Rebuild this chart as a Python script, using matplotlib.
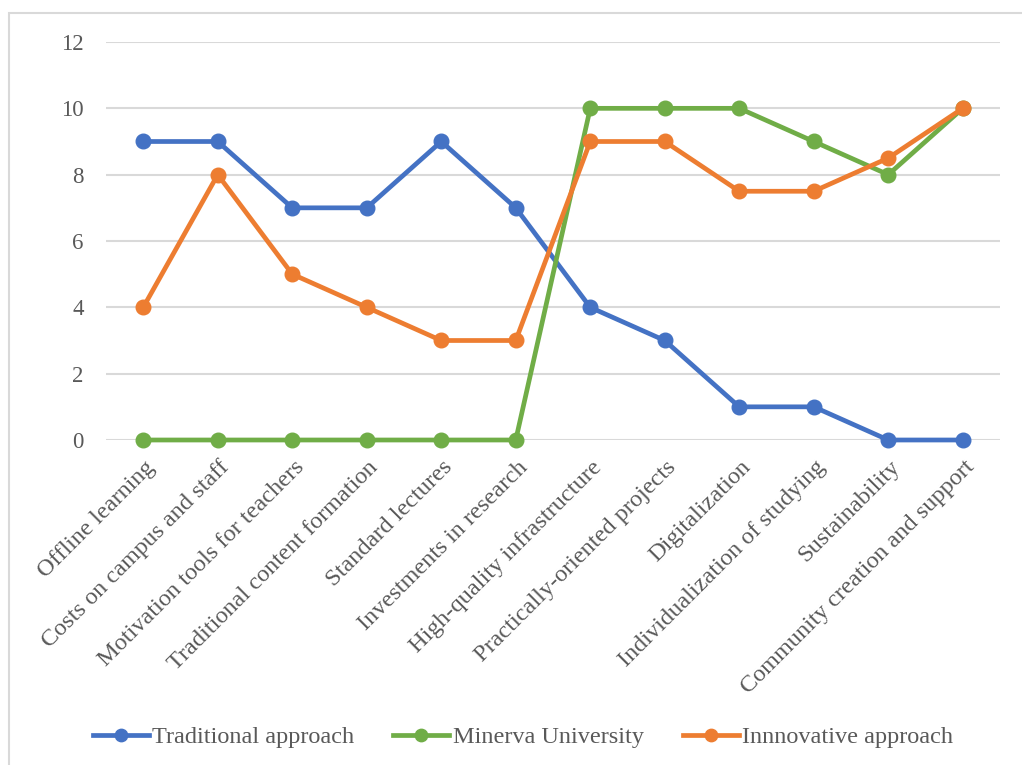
import matplotlib.pyplot as plt
from matplotlib.patches import Rectangle
from matplotlib.transforms import ScaledTranslation

plt.rcParams['font.family'] = ['Liberation Serif', 'DejaVu Serif']

categories = ['Offline learning', 'Costs on campus and staff', 'Motivation tools for teachers',
              'Traditional content formation', 'Standard lectures', 'Investments in research',
              'High-quality infrastructure', 'Practically-oriented projects', 'Digitalization',
              'Individualization of studying', 'Sustainability', 'Community creation and support']
traditional = [9, 9, 7, 7, 9, 7, 4, 3, 1, 1, 0, 0]
minerva = [0, 0, 0, 0, 0, 0, 10, 10, 10, 9, 8, 10]
innovative = [4, 8, 5, 4, 3, 3, 9, 9, 7.5, 7.5, 8.5, 10]

fig = plt.figure(figsize=(10.22, 7.65), dpi=100)
W, H = 1022, 765
ax = fig.add_axes([106 / W, 1 - 440 / H, (1000 - 106) / W, (440 - 42) / H])

# chart border
fig.patches.append(Rectangle((9 / W, -0.01), 1.1, 1 - 13 / H + 0.01, transform=fig.transFigure,
                             fill=False, edgecolor='#d9d9d9', linewidth=1.5))

x = list(range(len(categories)))
style = dict(lw=3.4, marker='o', ms=10.5, zorder=3, clip_on=False)
ax.plot(x, traditional, color='#4472C4', label='Traditional approach', **style)
ax.plot(x, minerva, color='#70AD47', label='Minerva University', **style)
ax.plot(x, innovative, color='#ED7D31', label='Innnovative approach', **style)

ax.set_xlim(-0.5, len(categories) - 0.5)
ax.set_ylim(0, 12)
ax.set_yticks(range(0, 13, 2))
ax.yaxis.grid(True, color='#d9d9d9', lw=1.5)
ax.set_axisbelow(True)
for s in ax.spines.values():
    s.set_visible(False)
ax.tick_params(axis='both', length=0, colors='#595959')
ax.tick_params(axis='y', pad=16, labelsize=16.5)
ax.set_xticks(x)
ax.set_xticklabels(categories, rotation=45, ha='right', va='top', rotation_mode='anchor')
ax.tick_params(axis='x', pad=12, labelsize=17.5)
shift = ScaledTranslation(1 / 100, 0, fig.dpi_scale_trans)
for lab in ax.get_xticklabels():
    lab.set_transform(lab.get_transform() + shift)

fig.legend(loc='center', bbox_to_anchor=(523 / W, 1 - 737 / H), ncol=3, frameon=False,
           fontsize=17.5, handlelength=2.3, handletextpad=0.15, columnspacing=1.6,
           labelcolor='#595959', markerscale=0.85)

fig.savefig('out.png', dpi=100)
